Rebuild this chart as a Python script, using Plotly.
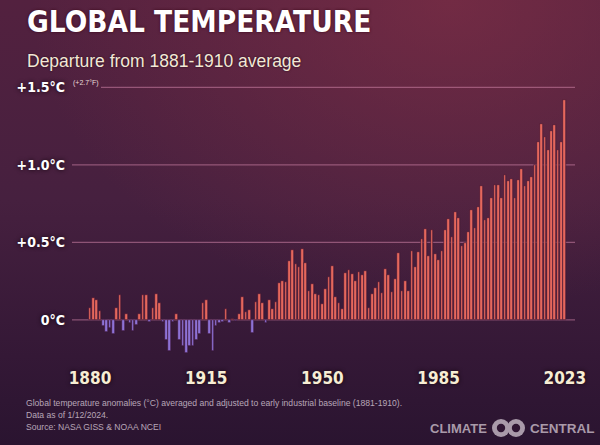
import base64
import plotly.graph_objects as go

# ---------------- data ----------------
years = list(range(1880, 2024))
anomaly = [
    # 1880-1899
    0.08, 0.14, 0.13, 0.06, -0.04, -0.08, -0.05, -0.09, 0.08, 0.16,
    -0.07, 0.04, -0.02, -0.07, -0.03, 0.04, 0.16, 0.16, -0.01, 0.08,
    # 1900-1919
    0.17, 0.11, -0.01, -0.13, -0.20, -0.01, 0.04, -0.13, -0.17, -0.21,
    -0.17, -0.17, -0.13, -0.09, 0.11, 0.13, -0.09, -0.20, -0.04, -0.02,
    # 1920-1939
    -0.01, 0.07, -0.02, 0.005, -0.005, 0.04, 0.15, 0.05, 0.065, -0.085,
    0.115, 0.17, 0.11, -0.02, 0.13, 0.07, 0.115, 0.24, 0.25, 0.245,
    # 1940-1959
    0.38, 0.45, 0.36, 0.34, 0.46, 0.365, 0.19, 0.23, 0.17, 0.16,
    0.10, 0.20, 0.275, 0.35, 0.146, 0.112, 0.069, 0.30, 0.32, 0.297,
    # 1960-1979
    0.254, 0.312, 0.288, 0.316, 0.075, 0.166, 0.209, 0.247, 0.176, 0.327,
    0.29, 0.18, 0.267, 0.43, 0.19, 0.254, 0.185, 0.443, 0.342, 0.438,
    # 1980-1999
    0.52, 0.585, 0.413, 0.58, 0.426, 0.39, 0.447, 0.578, 0.652, 0.535,
    0.697, 0.658, 0.48, 0.497, 0.566, 0.71, 0.594, 0.727, 0.865, 0.647,
    # 2000-2019
    0.658, 0.79, 0.871, 0.871, 0.79, 0.935, 0.895, 0.908, 0.79, 0.903,
    0.972, 0.867, 0.895, 0.923, 1.0, 1.15, 1.267, 1.18, 1.097, 1.22,
    # 2020-2023
    1.258, 1.097, 1.146, 1.42,
]
y_ticks = [0, 0.5, 1.0, 1.5]
y_tick_labels = ["0°C", "+0.5°C", "+1.0°C", "+1.5°C"]
x_ticks = [1880, 1915, 1950, 1985, 2023]
x_tick_labels = ["1880", "1915", "1950", "1985", "2023"]

title_text = "GLOBAL TEMPERATURE"
subtitle_text = "Departure from 1881-1910 average"
fahrenheit_note = "(+2.7°F)"
footer_lines = [
    "Global temperature anomalies (°C) averaged and adjusted to early industrial baseline (1881-1910).",
    "Data as of 1/12/2024.",
    "Source: NASA GISS & NOAA NCEI",
]

# ---------------- layout geometry ----------------
W, H = 600, 445
ML, MR, MT, MB = 72, 25, 80, 90
PW, PH = W - ML - MR, H - MT - MB

def px_x(px):
    return (px - ML) / PW

def px_y(py):
    return (H - MB - py) / PH

POS = "#e5675c"
NEG = "#8d72d6"
colors = [POS if v >= 0 else NEG for v in anomaly]

narrow = "DejaVu Sans Condensed, Liberation Sans Narrow, sans-serif"
sans = "Liberation Sans, Arial, sans-serif"

fig = go.Figure()
fig.add_trace(go.Bar(
    x=years, y=anomaly,
    marker=dict(color=colors, line=dict(color="#3a1233", width=0.6)),
    width=0.8,
    hoverinfo="x+y",
))

# background gradient (SVG)
svg = f"""<svg xmlns='http://www.w3.org/2000/svg' width='{W}' height='{H}' preserveAspectRatio='none'>
<defs>
<linearGradient id='g' x1='0' y1='0' x2='0' y2='1'>
<stop offset='0' stop-color='#53213f'/>
<stop offset='0.45' stop-color='#46203f'/>
<stop offset='0.8' stop-color='#341836'/>
<stop offset='1' stop-color='#2a1430'/>
</linearGradient>
<radialGradient id='r' cx='0.75' cy='0.0' r='0.7'>
<stop offset='0' stop-color='#8c3348' stop-opacity='0.55'/>
<stop offset='1' stop-color='#8c3348' stop-opacity='0'/>
</radialGradient>
</defs>
<rect width='{W}' height='{H}' fill='url(#g)'/>
<rect width='{W}' height='{H}' fill='url(#r)'/>
</svg>"""
src = "data:image/svg+xml;base64," + base64.b64encode(svg.encode()).decode()

shapes = []
grid_col = "rgba(205,130,165,0.55)"
for v in y_ticks:
    x0 = px_x(101) if v == 1.5 else 0
    shapes.append(dict(type="line", xref="paper", yref="y", x0=x0, x1=1,
                       y0=v, y1=v, line=dict(color=grid_col, width=1.2),
                       layer="below"))

# logo rings
ring_col = "#a99aa9"
for cx in (501, 516):
    r = 9
    shapes.append(dict(type="circle", xref="paper", yref="paper",
                       x0=px_x(cx - r), x1=px_x(cx + r),
                       y0=px_y(428 + r), y1=px_y(428 - r),
                       fillcolor=ring_col, line=dict(width=0), layer="above"))
for cx in (501, 516):
    r = 4.2
    shapes.append(dict(type="circle", xref="paper", yref="paper",
                       x0=px_x(cx - r), x1=px_x(cx + r),
                       y0=px_y(428 + r), y1=px_y(428 - r),
                       fillcolor="#2f1532", line=dict(width=0), layer="above"))

ann = []
ann.append(dict(text=title_text, xref="paper", yref="paper",
                x=px_x(25), y=px_y(3), xanchor="left", yanchor="top",
                showarrow=False,
                font=dict(family=narrow, size=29.5, color="#ffffff", weight="bold",
                          shadow="0px 0px 3px #3a0818")))
ann.append(dict(text=subtitle_text, xref="paper", yref="paper",
                x=px_x(25), y=px_y(49), xanchor="left", yanchor="top",
                showarrow=False,
                font=dict(family=sans, size=17.5, color="#f3e8d6",
                          shadow="0px 0px 2px #200818")))
ann.append(dict(text=fahrenheit_note, xref="paper", yref="paper",
                x=px_x(71), y=px_y(89), xanchor="left", yanchor="bottom",
                showarrow=False,
                font=dict(family=sans, size=7, color="#e8dcd8")))
for i, line in enumerate(footer_lines):
    ann.append(dict(text=line, xref="paper", yref="paper",
                    x=px_x(24), y=px_y(403 + 12 * i), xanchor="left",
                    yanchor="middle", showarrow=False,
                    font=dict(family=sans, size=8.6, color="#b8a6b8")))
ann.append(dict(text="<b>CLIMATE</b>", xref="paper", yref="paper",
                x=px_x(489), y=px_y(428), xanchor="right", yanchor="middle",
                showarrow=False, font=dict(family=sans, size=13, color=ring_col)))
ann.append(dict(text="<b>CENTRAL</b>", xref="paper", yref="paper",
                x=px_x(528), y=px_y(428), xanchor="left", yanchor="middle",
                showarrow=False, font=dict(family=sans, size=13.5, color=ring_col)))

fig.update_layout(
    width=W, height=H,
    margin=dict(l=ML, r=MR, t=MT, b=MB, autoexpand=False),
    paper_bgcolor="#44203e",
    plot_bgcolor="rgba(0,0,0,0)",
    showlegend=False,
    bargap=0,
    images=[dict(source=src, xref="paper", yref="paper",
                 x=px_x(0), y=px_y(0), sizex=W / PW, sizey=H / PH,
                 sizing="stretch", xanchor="left", yanchor="top",
                 layer="below")],
    shapes=shapes,
    annotations=ann,
    xaxis=dict(range=[1874.58, 2026.08], tickvals=x_ticks,
               ticktext=x_tick_labels, showgrid=False, zeroline=False,
               showline=False, ticks="", ticklabelstandoff=11,
               automargin=False,
               tickfont=dict(family=narrow, size=17, color="#f7edd4",
                             weight="bold", shadow="0px 0px 4px #14060f")),
    yaxis=dict(range=[-0.226, 1.548], tickvals=y_ticks,
               ticktext=y_tick_labels, showgrid=False, zeroline=False,
               showline=False, ticks="", ticklabelstandoff=6,
               automargin=False,
               tickfont=dict(family=narrow, size=14, color="#ffffff",
                             weight="bold", shadow="0px 0px 4px #14060f")),
)

fig.write_html(
    "out.html",
    config={"displayModeBar": False},
    post_script="document.body.style.margin='0';document.body.style.overflow='hidden';",
)
